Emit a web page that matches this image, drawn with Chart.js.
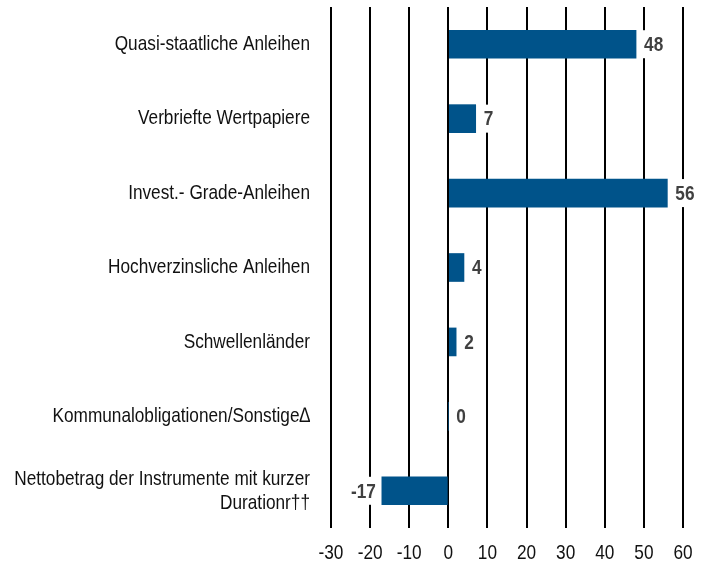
<!DOCTYPE html>
<html lang="de">
<head>
    <meta charset="UTF-8">
    <title>Anleihen Allokation</title>
    <script src="https://cdn.jsdelivr.net/npm/chart.js"></script>
    <style>
        html, body {
            margin: 0;
            padding: 0;
            background: #ffffff;
        }
        .chart-wrapper {
            width: 715px;
            height: 567px;
        }
    </style>
</head>
<body>
    <div class="chart-wrapper">
        <canvas id="chart"></canvas>
    </div>

    <script>
        // categories (top to bottom)
        const categories = [
            'Quasi-staatliche Anleihen',
            'Verbriefte Wertpapiere',
            'Invest.- Grade-Anleihen',
            'Hochverzinsliche Anleihen',
            'Schwellenländer',
            'Kommunalobligationen/Sonstige\u2206',
            ['Nettobetrag der Instrumente mit kurzer', 'Durationr\u2020\u2020']
        ];
        const values = [48, 7, 56, 4, 2, 0, -17];
        const xTicks = [-30, -20, -10, 0, 10, 20, 30, 40, 50, 60];

        // no narrow font installed -> squeeze Liberation Sans horizontally
        const fontFamily = "'Liberation Sans', Arial, sans-serif";
        const squeeze = 0.82;

        function narrowText(ctx, txt, x, y, align) {
            ctx.save();
            ctx.translate(x, y);
            ctx.scale(squeeze, 1);
            ctx.textAlign = align;
            ctx.fillText(txt, 0, 0);
            ctx.restore();
        }

        // axis labels drawn at the scales' tick positions
        const narrowTicks = {
            id: 'narrowTicks',
            afterDraw(chart) {
                const ctx = chart.ctx;
                const xs = chart.scales.x;
                const ys = chart.scales.y;
                ctx.save();
                ctx.font = '21px ' + fontFamily;
                ctx.fillStyle = '#111111';
                ctx.textBaseline = 'middle';
                categories.forEach((lab, i) => {
                    const y = ys.getPixelForTick(i);
                    const lines = Array.isArray(lab) ? lab : [lab];
                    const lh = 24;
                    const y0 = y - (lines.length - 1) * lh / 2;
                    lines.forEach((ln, j) => {
                        narrowText(ctx, ln, ys.right - 21, y0 + j * lh, 'right');
                    });
                });
                xTicks.forEach(v => {
                    narrowText(ctx, String(v), xs.getPixelForValue(v), chart.chartArea.bottom + 25, 'center');
                });
                ctx.restore();
            }
        };

        // value labels next to bar ends, with white box behind
        const valueLabels = {
            id: 'valueLabels',
            afterDatasetsDraw(chart) {
                const ctx = chart.ctx;
                const meta = chart.getDatasetMeta(0);
                ctx.save();
                ctx.font = 'bold 21px ' + fontFamily;
                ctx.textBaseline = 'middle';
                meta.data.forEach((bar, i) => {
                    const v = values[i];
                    const txt = String(v);
                    const w = ctx.measureText(txt).width * squeeze;
                    let x;
                    if (v < 0) {
                        x = bar.x - 6 - w;
                    } else {
                        x = bar.x + 8;
                    }
                    ctx.fillStyle = '#ffffff';
                    ctx.fillRect(x - 2, bar.y - 14, w + 4, 28);
                    ctx.fillStyle = '#404040';
                    narrowText(ctx, txt, x, bar.y + 1, 'left');
                });
                ctx.restore();
            }
        };

        new Chart(document.getElementById('chart'), {
            type: 'bar',
            data: {
                labels: categories,
                datasets: [{
                    data: values,
                    backgroundColor: '#00538a',
                    borderWidth: 0,
                    barThickness: 28
                }]
            },
            options: {
                indexAxis: 'y',
                responsive: true,
                maintainAspectRatio: false,
                animation: false,
                layout: {
                    padding: { top: 7, right: 32, left: 0, bottom: 0 }
                },
                plugins: {
                    legend: { display: false },
                    tooltip: { enabled: false }
                },
                scales: {
                    x: {
                        min: -30,
                        max: 60,
                        afterBuildTicks(scale) {
                            scale.ticks = xTicks.map(v => ({ value: v }));
                        },
                        afterFit(scale) {
                            scale.height = 39;
                            scale.paddingLeft = 0;
                            scale.paddingRight = 0;
                        },
                        grid: {
                            color: '#000000',
                            lineWidth: 2,
                            drawTicks: false
                        },
                        border: { display: false },
                        ticks: { display: false }
                    },
                    y: {
                        afterFit(scale) {
                            scale.width = 331;
                            scale.paddingTop = 0;
                            scale.paddingBottom = 0;
                        },
                        grid: { display: false },
                        border: { display: false },
                        ticks: { display: false }
                    }
                }
            },
            plugins: [valueLabels, narrowTicks]
        });
    </script>
</body>
</html>
